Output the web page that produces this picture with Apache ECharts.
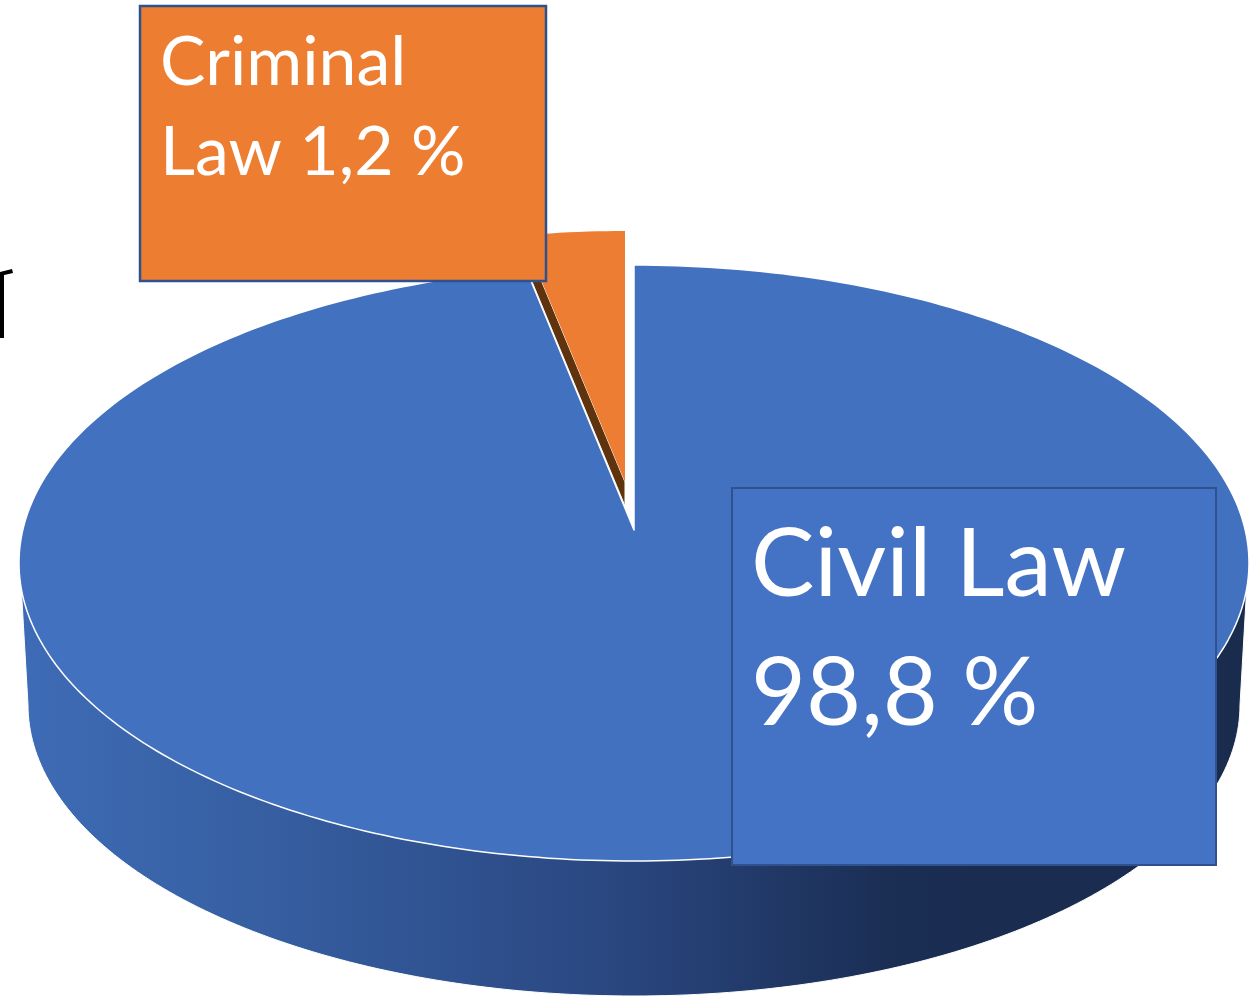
<!DOCTYPE html>
<html>
<head>
<meta charset="utf-8">
<title>Civil Law / Criminal Law</title>
<script src="https://cdn.jsdelivr.net/npm/echarts@6/dist/echarts.min.js"></script>
<style>
  html, body { margin: 0; padding: 0; background: #fff; }
  #chart { width: 1256px; height: 998px; }
</style>
</head>
<body>
<div id="chart"></div>
<script>
// what the picture says
const categories = ['Civil Law', 'Criminal Law'];
const labelValues = [98.8, 1.2];
// share of the ellipse each slice really takes up as drawn (read off the wedge, not the label)
const drawnShares = [97.2, 2.8];
const labelLines = [['Civil Law', null], ['Criminal', 'Law']];

// layout of the tilted pie
const topFace = { cx: 634, cy: 563, rx: 615, ry: 298 };
const bottomFace = { cx: 634, cy: 705, rx: 606, ry: 291 };
const sliceLayout = [
  { cx: 634, cy: 563, rx: 615, ry: 298, apexX: 634, apexY: 530, fill: '#4271bf', box: '#4472c4' },
  { cx: 625, cy: 529, rx: 585, ry: 298, apexX: 625, apexY: 482, fill: '#ec7d32', box: '#ed7d31' }
];
const boxLayout = [
  { x: 732, y: 488, w: 484, h: 377, border: 2, textX: 751, font: 95, lineHeight: 129, textY: 501 },
  { x: 140, y: 6, w: 406, h: 275, border: 2.5, textX: 160, font: 68, lineHeight: 90, textY: 18 }
];

function ellipsePoint(face, deg) {
  const t = deg * Math.PI / 180;
  return [face.cx + face.rx * Math.sin(t), face.cy - face.ry * Math.cos(t)];
}

function arc(face, from, to) {
  const pts = [];
  const steps = Math.max(2, Math.ceil(Math.abs(to - from)));
  for (let i = 0; i <= steps; i++) {
    pts.push(ellipsePoint(face, from + (to - from) * i / steps));
  }
  return pts;
}

function shareAngles() {
  const total = drawnShares.reduce((a, b) => a + b, 0);
  let start = 0;
  return drawnShares.map(v => {
    const a = { from: start, to: start + v / total * 360 };
    start = a.to;
    return a;
  });
}

function formatLabel(i) {
  const value = String(labelValues[i]).replace('.', ',') + ' %';
  const lines = labelLines[i];
  return lines[1] ? lines[0] + '\n' + lines[1] + ' ' + value : lines[0] + '\n' + value;
}

const chart = echarts.init(document.getElementById('chart'));

const option = {
  animation: false,
  backgroundColor: '#ffffff',
  // cut off scrap of some glyph at the left edge of the screenshot
  graphic: [
    { type: 'rect', silent: true, z: 1, shape: { x: 0, y: 273, width: 4, height: 65 }, style: { fill: '#000' } },
    { type: 'polygon', silent: true, z: 1, shape: { points: [[0, 272], [12, 269], [13, 273], [0, 276]] }, style: { fill: '#000' } }
  ],
  series: [
    {
      // side wall, the whole rim in one piece
      type: 'custom',
      name: 'side',
      coordinateSystem: 'none',
      silent: true,
      z: 2,
      data: [0],
      renderItem: function () {
        const wall = [ellipsePoint(topFace, 265)]
          .concat(arc(bottomFace, 270, 90))
          .concat([ellipsePoint(topFace, 95)]);
        return {
          type: 'polygon',
          shape: { points: wall },
          style: {
            fill: new echarts.graphic.LinearGradient(28, 0, 1240, 0, [
              { offset: 0, color: '#3e6bb5' },
              { offset: 0.15, color: '#3862a6' },
              { offset: 0.48, color: '#2a4781' },
              { offset: 0.72, color: '#1a2d52' },
              { offset: 1, color: '#1a2c4e' }
            ], true),
            stroke: '#fff',
            lineWidth: 1
          }
        };
      }
    },
    {
      type: 'custom',
      name: 'slices',
      coordinateSystem: 'none',
      silent: true,
      z: 3,
      data: categories.map((c, i) => ({ name: c, value: drawnShares[i] })),
      renderItem: function (params) {
        const i = params.dataIndex;
        const ang = shareAngles()[i];
        const s = sliceLayout[i];
        const rim = arc(s, ang.from, ang.to);
        const face = {
          type: 'polygon',
          shape: { points: [[s.apexX, s.apexY]].concat(rim) },
          style: { fill: s.fill, stroke: i === 0 ? '#fff' : 'none', lineWidth: 1.5, lineJoin: 'round' }
        };
        if (i === 0) return face;
        // the criminal slice is pulled out, its cut side shows as a thin strip
        const end = rim[0];
        const strip = {
          type: 'polygon',
          shape: { points: [[s.apexX, s.apexY], [s.apexX, s.apexY + 24], [end[0] - 8, end[1] + 4], end] },
          style: { fill: '#60330f', stroke: '#fff', lineWidth: 1, lineJoin: 'round' }
        };
        return { type: 'group', children: [strip, face] };
      }
    },
    {
      type: 'custom',
      name: 'labels',
      coordinateSystem: 'none',
      silent: true,
      z: 4,
      data: categories,
      renderItem: function (params) {
        const i = params.dataIndex;
        const b = boxLayout[i];
        return {
          type: 'group',
          children: [
            {
              type: 'rect',
              shape: { x: b.x, y: b.y, width: b.w, height: b.h },
              style: { fill: sliceLayout[i].box, stroke: '#2f528f', lineWidth: b.border }
            },
            {
              type: 'text',
              z2: 2,
              style: {
                x: b.textX,
                y: b.textY,
                text: formatLabel(i),
                fill: '#fff',
                font: b.font + 'px Lato',
                lineHeight: b.lineHeight,
                align: 'left',
                verticalAlign: 'top'
              }
            }
          ]
        };
      }
    }
  ]
};

chart.setOption(option);
</script>
</body>
</html>
